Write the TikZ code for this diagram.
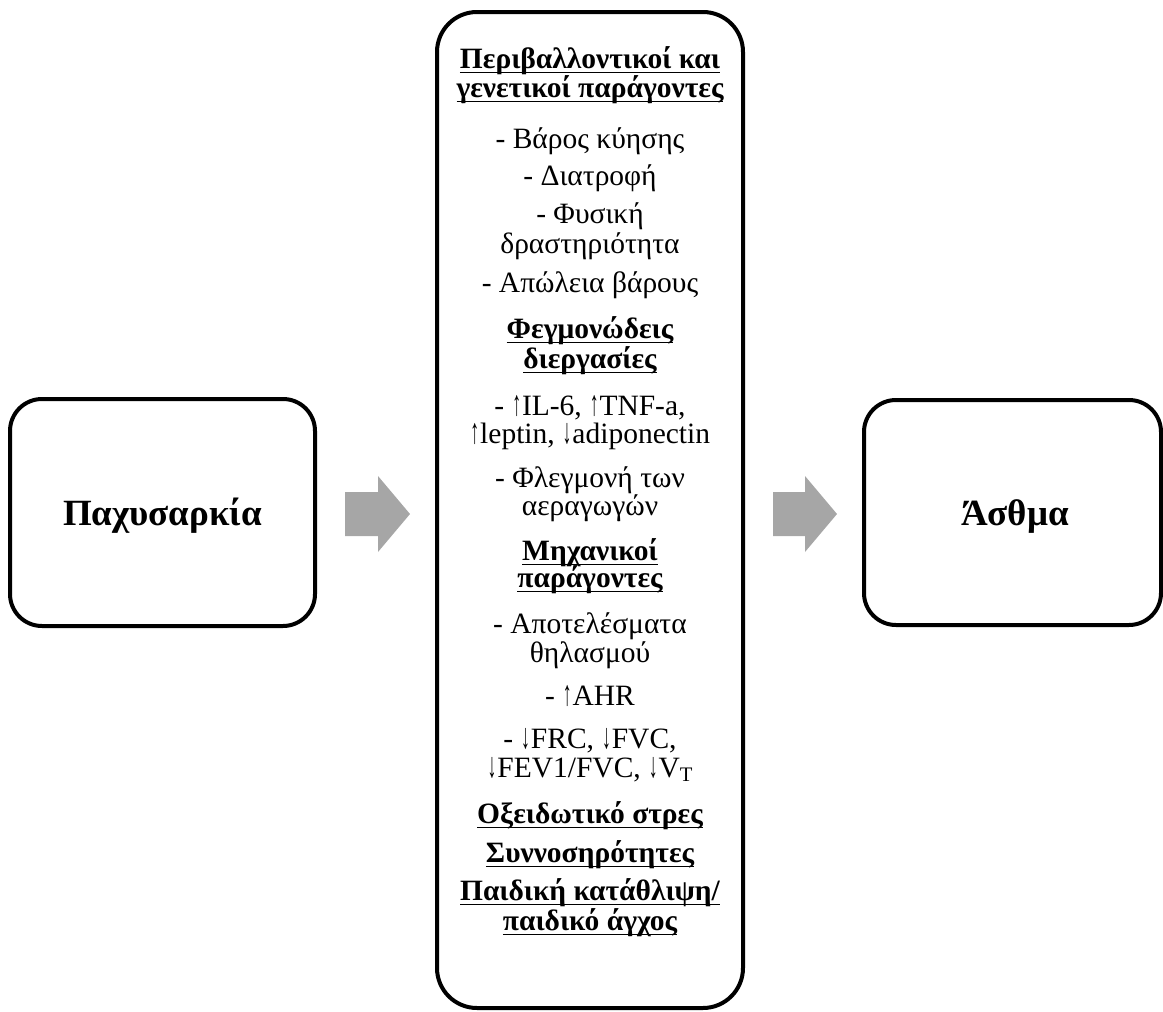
\documentclass[tikz,border=0pt]{standalone}
\usepackage{fontspec}
\usepackage{graphicx}
\setmainfont{Liberation Serif}
\newcommand{\ulbox}[1]{\sbox0{#1}\rlap{\vrule width\wd0 height -0.12em depth 0.18em}\usebox0}
\newcommand{\uparr}{\kern0.02em\resizebox{0.30em}{0.68em}{↑}\kern0.03em}
\newcommand{\dnarr}{\kern0.02em\resizebox{0.30em}{0.68em}{↓}\kern0.03em}
\definecolor{arrowgray}{RGB}{166,166,166}
\begin{document}
\begin{tikzpicture}[x=1pt,y=-1pt,
  box/.style={draw, line width=4pt, rounded corners=32pt, inner sep=0pt},
  ln/.style={anchor=base, inner sep=0pt, font=\fontsize{29.5}{31}\selectfont},
  hd/.style={anchor=base, inner sep=0pt, font=\fontsize{29.5}{31}\selectfont\bfseries},
  big/.style={anchor=base, inner sep=0pt, font=\fontsize{37}{39}\selectfont\bfseries},
  blockarrow/.style={fill=arrowgray, draw=none}]
\useasboundingbox (0,0) rectangle (1163,1012);
% boxes
\node[box, minimum width=305pt, minimum height=227pt] (obes) at (162.5,512.5) {};
\node[box, rounded corners=40pt, minimum width=306pt, minimum height=996pt] (mid) at (590,510) {};
\node[box, minimum width=297pt, minimum height=225pt] (asth) at (1012.5,512.5) {};
\node[big] (obest) at (162.5,525) {Παχυσαρκία};
\node[big] (astht) at (1015,525) {Άσθμα};
% block arrows
\coordinate (arrL) at (345,514);
\coordinate (arrR) at (773,514);
\fill[blockarrow] (arrL) ++(0,-22) -- ++(33,0) -- ++(0,-16) -- ++(32,38) -- ++(-32,38) -- ++(0,-16) -- ++(-33,0) -- cycle;
\fill[blockarrow] (arrR) ++(0,-22) -- ++(32,0) -- ++(0,-16) -- ++(32,38) -- ++(-32,38) -- ++(0,-16) -- ++(-32,0) -- cycle;
% middle text
\node[hd] (t1) at (590,68) {\ulbox{Περιβαλλοντικοί και}};
\node[hd] (t2) at (590,97) {\ulbox{γενετικοί παράγοντες}};
\node[ln] (t3) at (590,148) {- Βάρος κύησης};
\node[ln] (t4) at (590,185) {- Διατροφή};
\node[ln] (t5) at (590,223) {- Φυσική};
\node[ln] (t6) at (590,253) {δραστηριότητα};
\node[ln] (t7) at (590,292) {- Απώλεια βάρους};
\node[hd] (t8) at (590,338) {\ulbox{Φεγμονώδεις}};
\node[hd] (t9) at (590,368) {\ulbox{διεργασίες}};
\node[ln] (t10) at (590,415) {- \uparr IL-6, \uparr TNF-a,};
\node[ln] (t11) at (590,443) {\uparr leptin, \dnarr adiponectin};
\node[ln] (t12) at (590,487) {- Φλεγμονή των};
\node[ln] (t13) at (590,515) {αεραγωγών};
\node[hd] (t14) at (590,560) {\ulbox{Μηχανικοί}};
\node[hd] (t15) at (590,587) {\ulbox{παράγοντες}};
\node[ln] (t16) at (590,633) {- Αποτελέσματα};
\node[ln] (t17) at (590,662) {θηλασμού};
\node[ln] (t18) at (590,705) {- \uparr AHR};
\node[ln] (t19) at (590,748) {- \dnarr FRC, \dnarr FVC,};
\node[ln] (t20) at (590,777) {\dnarr FEV1/FVC, \dnarr V\textsubscript{T}};
\node[hd] (t21) at (590,823) {\ulbox{Οξειδωτικό στρες}};
\node[hd] (t22) at (590,862) {\ulbox{Συννοσηρότητες}};
\node[hd] (t23) at (590,900) {\ulbox{Παιδική κατάθλιψη/}};
\node[hd] (t24) at (590,930) {\ulbox{παιδικό άγχος}};
\end{tikzpicture}
\end{document}
